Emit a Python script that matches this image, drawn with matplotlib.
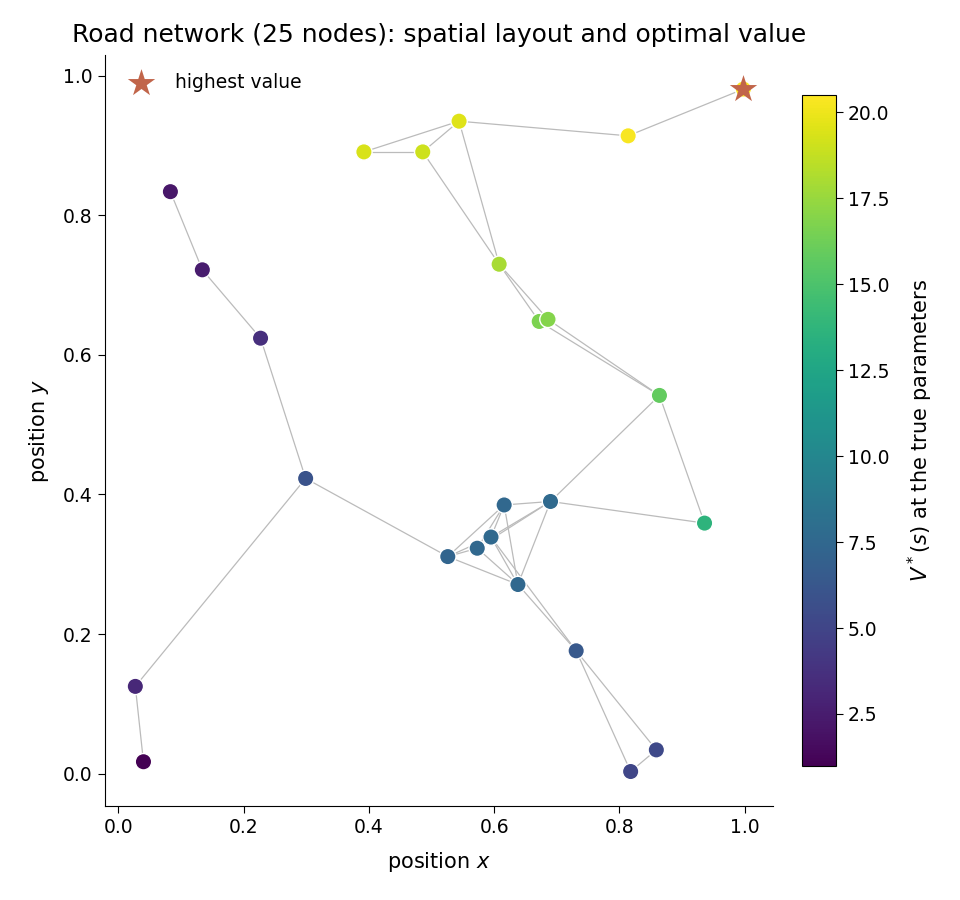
import numpy as np
import matplotlib.pyplot as plt

# node positions and optimal values
xs = [0.998, 0.814, 0.544, 0.392, 0.486, 0.608, 0.672, 0.686, 0.864, 0.936,
      0.083, 0.134, 0.227, 0.299, 0.027, 0.040,
      0.526, 0.573, 0.595, 0.616, 0.690, 0.638, 0.731, 0.859, 0.818]
ys = [0.981, 0.914, 0.935, 0.891, 0.891, 0.730, 0.648, 0.651, 0.542, 0.359,
      0.834, 0.722, 0.624, 0.423, 0.125, 0.017,
      0.311, 0.323, 0.339, 0.385, 0.390, 0.271, 0.176, 0.034, 0.003]
values = [20.52, 20.3, 19.6, 19.3, 19.0, 18.0, 16.7, 16.9, 15.8, 13.6,
          2.2, 2.5, 3.6, 6.0, 3.2, 0.99,
          7.3, 7.5, 7.6, 7.5, 7.7, 7.5, 6.4, 5.3, 5.1]

edges = [(0, 1), (1, 2), (2, 3), (2, 4), (3, 4), (2, 5), (4, 5),
         (5, 6), (5, 7), (6, 8), (7, 8), (8, 9), (8, 20), (20, 9),
         (10, 11), (11, 12), (12, 13), (13, 14), (14, 15), (13, 16),
         (16, 19), (16, 18), (16, 17), (16, 21), (17, 19), (18, 19),
         (19, 20), (19, 21), (20, 21), (20, 18), (20, 17), (17, 21),
         (18, 21), (18, 22), (21, 22), (22, 23), (22, 24), (23, 24)]

fig = plt.figure(figsize=(9.6, 9), dpi=100)
ax = fig.add_axes([0.109, 0.104, 0.696, 0.835])
cax = fig.add_axes([0.835, 0.149, 0.036, 0.746])

for i, j in edges:
    ax.plot([xs[i], xs[j]], [ys[i], ys[j]], color="#bbbbbb", lw=0.9, zorder=1)

sc = ax.scatter(xs, ys, c=values, cmap="viridis", s=140,
                edgecolors="white", linewidths=1.0, zorder=2)

best = int(np.argmax(values))
ax.scatter([xs[best]], [ys[best]], marker="*", s=430, color="#c1654a",
           zorder=3, label="highest value", linewidths=0)
ax.legend(loc="upper left", frameon=False, fontsize=13.5, borderpad=0.45,
          handletextpad=0.8)

ax.set_xlim(-0.022, 1.045)
ax.set_ylim(-0.047, 1.03)
ax.set_xticks([0.0, 0.2, 0.4, 0.6, 0.8, 1.0])
ax.set_yticks([0.0, 0.2, 0.4, 0.6, 0.8, 1.0])
ax.tick_params(labelsize=13.5, length=5)
ax.set_xlabel("position $x$", fontsize=15, labelpad=9)
ax.set_ylabel("position $y$", fontsize=15, labelpad=9)
ax.set_title("Road network (25 nodes): spatial layout and optimal value",
             fontsize=18, pad=9)
ax.spines["top"].set_visible(False)
ax.spines["right"].set_visible(False)

cb = fig.colorbar(sc, cax=cax)
cb.set_label("$V^*(s)$ at the true parameters", fontsize=15, labelpad=12)
cb.ax.tick_params(labelsize=13.5, length=5)

fig.savefig("out.png", dpi=100)
